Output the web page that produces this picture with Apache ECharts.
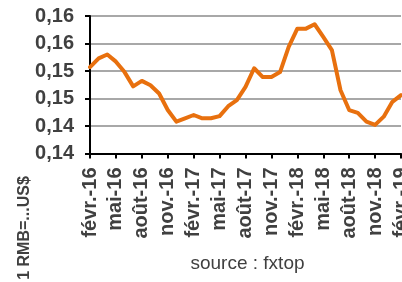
<!DOCTYPE html>
<html>
<head>
<meta charset="utf-8">
<script src="https://cdn.jsdelivr.net/npm/echarts@6/dist/echarts.min.js"></script>
<style>
html,body{margin:0;padding:0;background:#fff;}
#c{width:402px;height:282px;}
</style>
</head>
<body>
<div id="c"></div>
<script>
const months = [
  'févr.-16','mars-16','avr.-16','mai-16','juin-16','juil.-16','août-16','sept.-16','oct.-16','nov.-16','déc.-16','janv.-17',
  'févr.-17','mars-17','avr.-17','mai-17','juin-17','juil.-17','août-17','sept.-17','oct.-17','nov.-17','déc.-17','janv.-18',
  'févr.-18','mars-18','avr.-18','mai-18','juin-18','juil.-18','août-18','sept.-18','oct.-18','nov.-18','déc.-18','janv.-19',
  'févr.-19'
];
const rateUSD = [
  0.1557,0.1573,0.1580,0.1567,0.1548,0.1522,0.1532,0.1524,0.1509,0.1479,0.1458,0.1464,
  0.1470,0.1464,0.1464,0.1468,0.1486,0.1497,0.1521,0.1555,0.1539,0.1539,0.1548,0.1594,
  0.1627,0.1627,0.1635,0.1612,0.1588,0.1515,0.1479,0.1474,0.1458,0.1452,0.1467,0.1494,
  0.1506
];
const yTickLabels = ['0,14','0,14','0,15','0,15','0,16','0,16'];
const yMin = 0.14, yMax = 0.165, yStep = 0.005;
const yAxisName = '1 RMB=...US$';
const sourceText = 'source : fxtop';

const chart = echarts.init(document.getElementById('c'), null, {renderer:'canvas'});
chart.setOption({
  animation:false,
  backgroundColor:'#fff',
  grid:{left:90, right:1, top:16, bottom:128.5, containLabel:false, outerBoundsMode:'none'},
  xAxis:{
    type:'category',
    data:months,
    boundaryGap:false,
    axisLine:{show:true, lineStyle:{color:'#000', width:2}},
    axisTick:{show:true, interval:2, length:5, lineStyle:{color:'#000', width:2}},
    axisLabel:{
      interval:2, rotate:90, margin:14, hideOverlap:false,
      fontFamily:'Liberation Sans, Arial, sans-serif', fontWeight:'bold', fontSize:20,
      color:'#404040', padding:[12,0,0,0]
    },
    splitLine:{show:false}
  },
  yAxis:{
    type:'value', min:yMin, max:yMax, interval:yStep,
    axisLine:{show:true, lineStyle:{color:'#000', width:2}},
    axisTick:{show:true, inside:false, length:5, lineStyle:{color:'#000', width:2}},
    axisLabel:{
      margin:16,
      fontFamily:'Liberation Sans, Arial, sans-serif', fontWeight:'bold', fontSize:20,
      color:'#404040',
      formatter:function(v){ return yTickLabels[Math.round((v - yMin)/yStep)]; }
    },
    splitLine:{show:true, lineStyle:{color:'#A8A8A8', width:2}}
  },
  series:[{
    type:'line',
    data:rateUSD,
    symbol:'none',
    lineStyle:{color:'#E8700E', width:4, join:'round', cap:'round'},
    itemStyle:{color:'#E8700E'}
  }],
  graphic:[
    {type:'text', x:25, y:228, rotation:Math.PI/2,
     style:{text:yAxisName, fill:'#404040', font:'bold 16px "Liberation Sans", Arial, sans-serif',
            align:'center', verticalAlign:'middle'}},
    {type:'text', x:247.5, y:264, 
     style:{text:sourceText, fill:'#404040', font:'19px "Liberation Sans", Arial, sans-serif',
            align:'center', verticalAlign:'middle'}}
  ]
});
</script>
</body>
</html>
